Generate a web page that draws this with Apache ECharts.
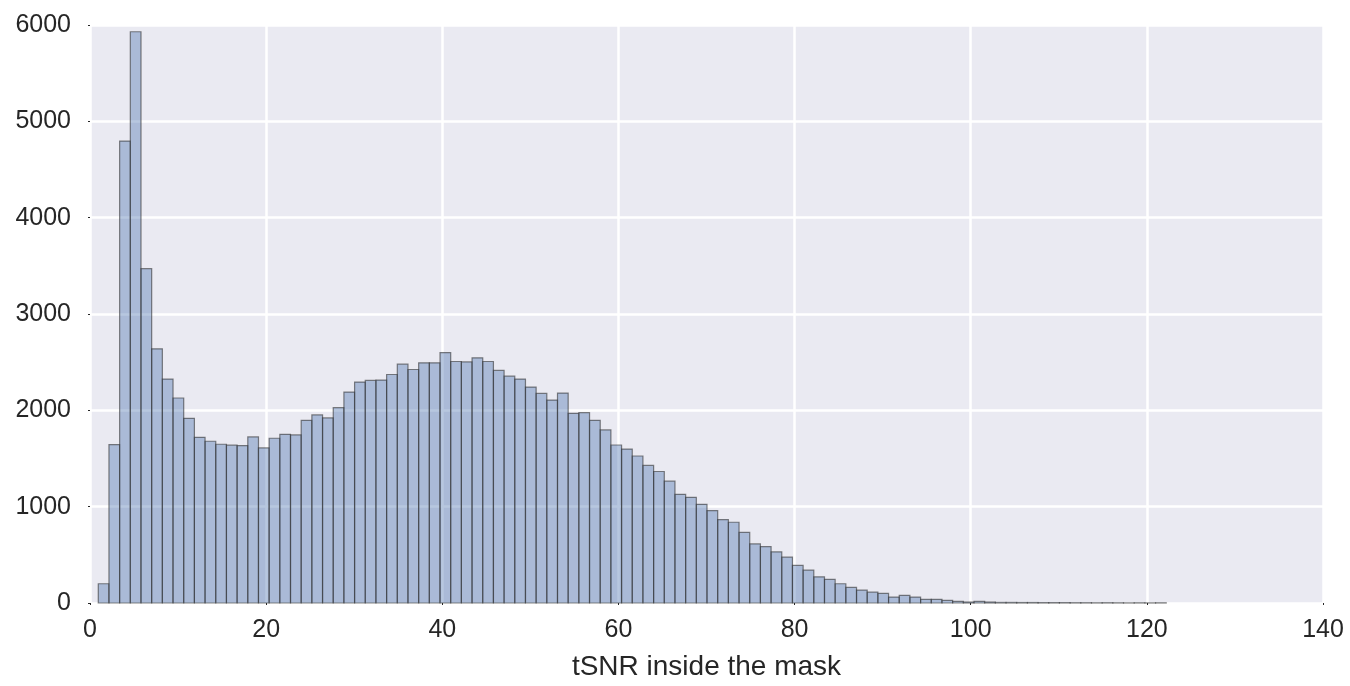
<!DOCTYPE html>
<html>
<head>
<meta charset="utf-8">
<script src="https://cdn.jsdelivr.net/npm/echarts@6/dist/echarts.min.js"></script>
<style>
html,body{margin:0;padding:0;background:#fff;}
#chart{width:1350px;height:686px;}
</style>
</head>
<body>
<div id="chart"></div>
<script>
// Histogram of tSNR inside the mask (100 bins)
const binStart = 0.94;
const binWidth = 1.2126;
const counts = [
  200, 1645, 4795, 5930, 3470, 2638, 2324, 2128, 1917, 1720,
  1679, 1648, 1638, 1634, 1724, 1610, 1710, 1751, 1745, 1896,
  1952, 1921, 2028, 2190, 2293, 2310, 2314, 2372, 2479, 2424,
  2493, 2493, 2600, 2507, 2503, 2545, 2507, 2414, 2355, 2324,
  2241, 2176, 2107, 2179, 1969, 1976, 1896, 1797, 1640, 1598,
  1526, 1428, 1365, 1265, 1128, 1097, 1024, 959, 866, 838,
  734, 613, 586, 531, 476, 390, 341, 272, 245, 200,
  162, 134, 112, 100, 62, 80, 62, 38, 38, 28,
  17, 10, 17, 10, 6, 6, 5, 5, 4, 4,
  4, 3, 3, 2, 3, 2, 1, 2, 1, 2
];
const xTicks = [0, 20, 40, 60, 80, 100, 120, 140];
const yTicks = [0, 1000, 2000, 3000, 4000, 5000, 6000];
const xLabel = 'tSNR inside the mask';

const data = counts.map((c, i) => [binStart + i * binWidth, binStart + (i + 1) * binWidth, c]);

const chart = echarts.init(document.getElementById('chart'));
const font = '"Liberation Sans", Arial, Helvetica, sans-serif';
chart.setOption({
  backgroundColor: '#ffffff',
  animation: false,
  grid: { left: 90, right: 27, top: 25, bottom: 81, show: true, backgroundColor: '#EAEAF2', borderWidth: 0 },
  xAxis: {
    type: 'value', min: xTicks[0], max: xTicks[xTicks.length - 1], interval: 20,
    name: xLabel, nameLocation: 'middle', nameGap: 50,
    nameTextStyle: { fontSize: 28, color: '#262626', fontFamily: font },
    axisLine: { show: false },
    axisTick: { show: true, length: 2, lineStyle: { color: '#262626', width: 1 } },
    axisLabel: { fontSize: 25, color: '#262626', fontFamily: font, margin: 15, formatter: v => String(v) },
    splitLine: { show: true, lineStyle: { color: '#ffffff', width: 2.5 } }
  },
  yAxis: {
    type: 'value', min: yTicks[0], max: yTicks[yTicks.length - 1], interval: 1000,
    axisLine: { show: false },
    axisTick: { show: true, length: 2, lineStyle: { color: '#262626', width: 1 } },
    axisLabel: { fontSize: 25, color: '#262626', fontFamily: font, margin: 19, formatter: v => String(v) },
    splitLine: { show: true, lineStyle: { color: '#ffffff', width: 2.5 } }
  },
  series: [{
    type: 'custom',
    data: data,
    encode: { x: [0, 1], y: 2 },
    renderItem: function (params, api) {
      const p0 = api.coord([api.value(0), 0]);
      const p1 = api.coord([api.value(1), api.value(2)]);
      return {
        type: 'rect',
        shape: { x: p0[0], y: p1[1], width: p1[0] - p0[0], height: p0[1] - p1[1] },
        style: { fill: 'rgba(76,114,176,0.4)', stroke: 'rgba(50,50,50,0.6)', lineWidth: 1.2 }
      };
    }
  }]
});
</script>
</body>
</html>
